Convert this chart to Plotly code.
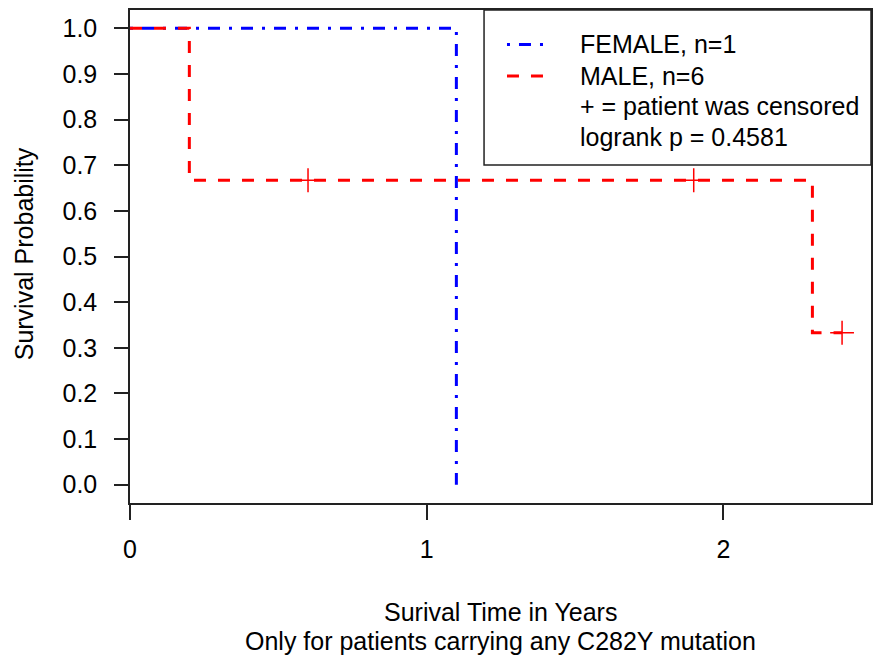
import plotly.graph_objects as go

# ---- data ----
female_time = [0.0, 1.1]
female_surv = [1.0, 0.0]
male_time = [0.0, 0.2, 2.3, 2.4]
male_surv = [1.0, 0.667, 0.333, 0.333]
male_cens_time = [0.6, 1.9, 2.4]
male_cens_surv = [0.667, 0.667, 0.333]
x_ticks = [0, 1, 2]
y_ticks = [0.0, 0.1, 0.2, 0.3, 0.4, 0.5, 0.6, 0.7, 0.8, 0.9, 1.0]
legend_labels = ["FEMALE, n=1", "MALE, n=6", "+ = patient was censored", "logrank p = 0.4581"]

FONT = "Liberation Sans, Arial, sans-serif"
FS = 25
BLUE = "#0000FF"
RED = "#FF0000"
BLUE_DASH = "3px,9px,12px,9px"
RED_DASH = "12px,12px"

W, H = 877, 657
L, R, T, B = 130, 4, 10, 154
PW, PH = W - L - R, H - T - B


def px(x):
    return (x - L) / PW


def py(y):
    return (H - B - y) / PH


fig = go.Figure()
fig.add_trace(go.Scatter(x=female_time, y=female_surv, mode="lines", line_shape="hv",
                         line=dict(color=BLUE, width=3, dash=BLUE_DASH), showlegend=False,
                         hoverinfo="skip"))
fig.add_trace(go.Scatter(x=male_time, y=male_surv, mode="lines", line_shape="hv",
                         line=dict(color=RED, width=3, dash=RED_DASH), showlegend=False,
                         hoverinfo="skip"))
fig.add_trace(go.Scatter(x=male_cens_time, y=male_cens_surv, mode="markers",
                         marker=dict(symbol="cross-thin", size=17, color=RED,
                                     line=dict(color=RED, width=1.5)),
                         showlegend=False, hoverinfo="skip"))

shapes = [
    dict(type="rect", xref="paper", yref="paper", x0=px(485), x1=1.0, y0=py(165), y1=1.0,
         line=dict(color="#222222", width=1.5), fillcolor="rgba(0,0,0,0)"),
    dict(type="line", xref="paper", yref="paper", x0=px(508), x1=px(548), y0=py(44.5), y1=py(44.5),
         line=dict(color=BLUE, width=3, dash=BLUE_DASH)),
    dict(type="line", xref="paper", yref="paper", x0=px(508), x1=px(548), y0=py(76), y1=py(76),
         line=dict(color=RED, width=3, dash=RED_DASH)),
]

annotations = []
rows_y = [44.5, 75.5, 106, 136.5]
for lab, yy in zip(legend_labels, rows_y):
    annotations.append(dict(text=lab, xref="paper", yref="paper", x=px(579), y=py(yy),
                            xanchor="left", yanchor="middle", showarrow=False,
                            font=dict(family=FONT, size=FS, color="black")))
annotations.append(dict(text="Surival Time in Years", xref="paper", yref="paper",
                        x=px(501.5), y=py(612), xanchor="center", yanchor="middle",
                        showarrow=False, font=dict(family=FONT, size=FS, color="black")))
annotations.append(dict(text="Only for patients carrying any C282Y mutation", xref="paper", yref="paper",
                        x=px(501.5), y=py(641), xanchor="center", yanchor="middle",
                        showarrow=False, font=dict(family=FONT, size=FS, color="black")))
annotations.append(dict(text="Survival Probability", xref="paper", yref="paper",
                        x=px(24), y=py(254), xanchor="center", yanchor="middle", textangle=-90,
                        showarrow=False, font=dict(family=FONT, size=FS, color="black")))

fig.update_layout(
    width=W, height=H,
    margin=dict(l=L, r=R, t=T, b=B),
    paper_bgcolor="white", plot_bgcolor="white",
    font=dict(family=FONT, size=FS, color="black"),
    shapes=shapes, annotations=annotations, showlegend=False,
    xaxis=dict(range=[0, 2.4975], tickvals=x_ticks, ticktext=[str(v) for v in x_ticks],
               showgrid=False, zeroline=False, showline=True, mirror=True,
               linecolor="#222222", linewidth=1.5, ticks="outside", ticklen=15,
               tickwidth=1.5, tickcolor="#222222", ticklabelstandoff=8,
               tickfont=dict(family=FONT, size=FS, color="black")),
    yaxis=dict(range=[-0.04, 1.04], tickvals=y_ticks, ticktext=[f"{v:.1f}" for v in y_ticks],
               showgrid=False, zeroline=False, showline=True, mirror=True,
               linecolor="#222222", linewidth=1.5, ticks="outside", ticklen=14,
               tickwidth=1.5, tickcolor="#222222", ticklabelstandoff=12,
               tickfont=dict(family=FONT, size=FS, color="black")),
)

fig.write_html("out.html")
